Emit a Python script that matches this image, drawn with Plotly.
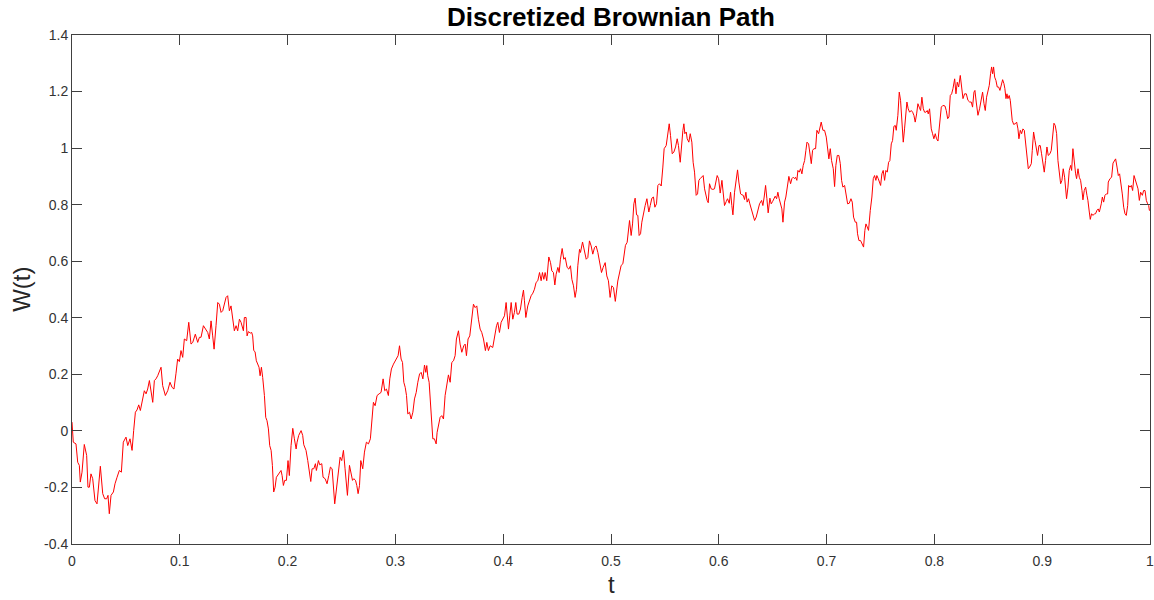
import plotly.graph_objects as go

# Brownian path W(t) sampled on [0, 1], stored piece by piece
t_seg1 = [0, 0.0012, 0.0037, 0.0053, 0.0068, 0.0077, 0.0093, 0.0114, 0.0136, 0.0148, 0.0161, 0.0176,
          0.0192, 0.0213, 0.0232, 0.0247, 0.0263, 0.0285, 0.0303, 0.0322, 0.0334, 0.0346, 0.0362, 0.0384,
          0.0399, 0.0418, 0.0439, 0.0458, 0.0476, 0.0501, 0.0517, 0.0538, 0.0557, 0.0572, 0.0588, 0.0603,
          0.0619, 0.0634, 0.0656, 0.0671, 0.0687, 0.0702, 0.0718, 0.0733, 0.0749, 0.0764, 0.0779, 0.0795,
          0.081, 0.0826, 0.0841, 0.0866, 0.0888, 0.0909, 0.0928, 0.0946, 0.0965, 0.098, 0.0996, 0.1011,
          0.1027, 0.1042, 0.1064, 0.1083, 0.1104, 0.112, 0.1144, 0.1166, 0.1182, 0.1197, 0.1219, 0.1237,
          0.1259, 0.1274, 0.129, 0.1305, 0.1318, 0.1336, 0.1352, 0.1367, 0.1383, 0.1398, 0.1414, 0.1429,
          0.1444, 0.146, 0.1475, 0.1491, 0.1506, 0.1522, 0.1537, 0.1553, 0.1568, 0.159]
w_seg1 = [0.031, -0.040, -0.046, -0.111, -0.122, -0.181, -0.146, -0.048, -0.087, -0.199, -0.199, -0.152,
          -0.169, -0.246, -0.258, -0.205, -0.125, -0.222, -0.240, -0.240, -0.228, -0.293, -0.228, -0.216,
          -0.187, -0.164, -0.140, -0.146, -0.040, -0.022, -0.052, -0.028, -0.069, 0.001, 0.066, 0.074,
          0.092, 0.072, 0.107, 0.142, 0.131, 0.148, 0.178, 0.136, 0.101, 0.178, 0.184, 0.195,
          0.213, 0.225, 0.160, 0.125, 0.142, 0.172, 0.154, 0.148, 0.204, 0.254, 0.245, 0.284,
          0.260, 0.325, 0.319, 0.384, 0.307, 0.313, 0.342, 0.313, 0.331, 0.331, 0.372, 0.360,
          0.348, 0.325, 0.389, 0.336, 0.289, 0.372, 0.454, 0.448, 0.419, 0.425, 0.448, 0.472,
          0.478, 0.425, 0.442, 0.389, 0.354, 0.372, 0.354, 0.395, 0.384, 0.354]

t_seg2 = [0.1599, 0.1615, 0.1624, 0.1636, 0.1655, 0.1667, 0.1676, 0.1686, 0.1698, 0.1710, 0.1723, 0.1735,
          0.1745, 0.1757, 0.1769, 0.1785, 0.1797, 0.1809, 0.1822, 0.1834, 0.1847, 0.1859, 0.1871, 0.1884,
          0.1896, 0.1908, 0.1924, 0.1939, 0.1949, 0.1961, 0.1973, 0.1989, 0.2004, 0.2016, 0.2032, 0.2048,
          0.2063, 0.2079, 0.2088, 0.2103, 0.2125, 0.2140, 0.2150, 0.2171, 0.2187, 0.2202, 0.2215, 0.2227,
          0.2243, 0.2258, 0.2267, 0.2286, 0.2298, 0.2317, 0.2329, 0.2348, 0.2366, 0.2382, 0.2397, 0.2413,
          0.2428, 0.2437, 0.2450, 0.2471, 0.2487, 0.2502, 0.2518, 0.2533, 0.2555, 0.2574, 0.2589, 0.2602,
          0.2614, 0.2630, 0.2642, 0.2654, 0.2667, 0.2679, 0.2697, 0.2713, 0.2731, 0.2750, 0.2768, 0.2781,
          0.2796, 0.2812, 0.2830, 0.2849, 0.2867, 0.2886, 0.2901, 0.2917, 0.2935, 0.2948, 0.2963, 0.2982,
          0.2997, 0.3013, 0.3025, 0.3038, 0.3053, 0.3066, 0.3078, 0.3091, 0.3103, 0.3115, 0.3131, 0.3146,
          0.3162, 0.3177, 0.3193, 0.3208, 0.3224, 0.3239, 0.3255, 0.3270]
w_seg2 = [0.401, 0.401, 0.336, 0.351, 0.346, 0.348, 0.336, 0.284, 0.280, 0.248, 0.236, 0.225,
          0.195, 0.225, 0.189, 0.125, 0.048, 0.036, 0.007, -0.052, -0.069, -0.122, -0.216, -0.199,
          -0.164, -0.158, -0.146, -0.140, -0.158, -0.193, -0.175, -0.175, -0.105, -0.158, -0.052, 0.009,
          -0.028, -0.064, -0.040, -0.016, 0.001, -0.016, -0.049, -0.069, -0.105, -0.140, -0.179, -0.134,
          -0.134, -0.116, -0.140, -0.105, -0.120, -0.116, -0.164, -0.169, -0.187, -0.158, -0.128, -0.134,
          -0.205, -0.258, -0.216, -0.140, -0.093, -0.105, -0.069, -0.134, -0.228, -0.122, -0.158, -0.175,
          -0.169, -0.175, -0.193, -0.222, -0.193, -0.105, -0.134, -0.075, -0.040, -0.046, -0.028, 0.042,
          0.101, 0.089, 0.125, 0.131, 0.136, 0.184, 0.142, 0.148, 0.125, 0.184, 0.219, 0.236,
          0.248, 0.260, 0.266, 0.301, 0.254, 0.242, 0.172, 0.154, 0.125, 0.060, 0.066, 0.042,
          0.066, 0.113, 0.136, 0.172, 0.201, 0.207, 0.184, 0.233]

t_seg3 = [0.3282, 0.3291, 0.3300, 0.3313, 0.3325, 0.3337, 0.3347, 0.3362, 0.3378, 0.3387, 0.3399, 0.3415,
          0.3430, 0.3446, 0.3461, 0.3477, 0.3492, 0.3508, 0.3523, 0.3539, 0.3554, 0.3566, 0.3585, 0.3600,
          0.3616, 0.3634, 0.3647, 0.3659, 0.3674, 0.3690, 0.3705, 0.3724, 0.3740, 0.3755, 0.3770, 0.3786,
          0.3801, 0.3817, 0.3835, 0.3848, 0.3863, 0.3879, 0.3903, 0.3919, 0.3938, 0.3950, 0.3965, 0.3981,
          0.3996, 0.4012, 0.4027, 0.4036, 0.4049, 0.4061, 0.4074, 0.4089, 0.4104, 0.4117, 0.4129, 0.4145,
          0.4160, 0.4176, 0.4188, 0.4197, 0.4210, 0.4228, 0.4247, 0.4259, 0.4275, 0.4290, 0.4305, 0.4321,
          0.4337, 0.4352, 0.4364, 0.4377, 0.4389, 0.4404, 0.4423, 0.4439, 0.4451, 0.4466, 0.4479, 0.4491,
          0.4507, 0.4519, 0.4531, 0.4547, 0.4562, 0.4575, 0.4593, 0.4609, 0.4624, 0.4637, 0.4652, 0.4667,
          0.4680, 0.4692, 0.4708, 0.4717, 0.4736, 0.4754, 0.4770, 0.4785, 0.4800, 0.4816, 0.4831, 0.4847,
          0.4862, 0.4878, 0.4896, 0.4912, 0.4927, 0.4946, 0.4961, 0.4976, 0.4992, 0.5007, 0.5023, 0.5040]
w_seg3 = [0.207, 0.231, 0.195, 0.172, 0.113, 0.054, -0.028, -0.028, -0.046, -0.005, 0.019, 0.048,
          0.054, 0.042, 0.125, 0.160, 0.198, 0.172, 0.242, 0.248, 0.266, 0.325, 0.354, 0.307,
          0.278, 0.301, 0.307, 0.266, 0.325, 0.336, 0.395, 0.448, 0.436, 0.442, 0.395, 0.360,
          0.348, 0.325, 0.284, 0.313, 0.284, 0.301, 0.295, 0.336, 0.372, 0.384, 0.348, 0.384,
          0.395, 0.407, 0.454, 0.413, 0.360, 0.407, 0.454, 0.395, 0.419, 0.454, 0.413, 0.413,
          0.431, 0.472, 0.498, 0.460, 0.401, 0.442, 0.466, 0.478, 0.487, 0.501, 0.525, 0.531,
          0.560, 0.531, 0.560, 0.536, 0.560, 0.531, 0.615, 0.595, 0.566, 0.560, 0.516, 0.554,
          0.578, 0.560, 0.607, 0.645, 0.607, 0.613, 0.578, 0.572, 0.584, 0.536, 0.513, 0.472,
          0.501, 0.584, 0.642, 0.631, 0.668, 0.631, 0.607, 0.613, 0.672, 0.654, 0.625, 0.648,
          0.654, 0.631, 0.595, 0.560, 0.578, 0.595, 0.548, 0.531, 0.472, 0.513, 0.507, 0.458]

t_seg4 = [0.5063, 0.5094, 0.5110, 0.5125, 0.5134, 0.5150, 0.5162, 0.5172, 0.5187, 0.5200, 0.5212, 0.5224,
          0.5237, 0.5249, 0.5261, 0.5274, 0.5286, 0.5302, 0.5317, 0.5333, 0.5351, 0.5364, 0.5379, 0.5394,
          0.5407, 0.5422, 0.5435, 0.5450, 0.5466, 0.5481, 0.5493, 0.5512, 0.5527, 0.5540, 0.5552, 0.5568,
          0.5583, 0.5599, 0.5614, 0.5626, 0.5642, 0.5657, 0.5667, 0.5676, 0.5685, 0.5698, 0.5707, 0.5722,
          0.5735, 0.5750, 0.5762, 0.5775, 0.5790, 0.5803, 0.5815, 0.5827, 0.5843, 0.5855, 0.5868, 0.5880,
          0.5892, 0.5902, 0.5914, 0.5929, 0.5945, 0.5960, 0.5973, 0.5985, 0.5998, 0.6013, 0.6029, 0.6044,
          0.6053, 0.6069, 0.6081, 0.6097, 0.6109, 0.6121, 0.6131, 0.6146, 0.6162, 0.6174, 0.6186, 0.6202,
          0.6214, 0.6227, 0.6239, 0.6251, 0.6263, 0.6276, 0.6288, 0.6301, 0.6316, 0.6332, 0.6347, 0.6363,
          0.6378, 0.6397, 0.6409, 0.6421, 0.6434, 0.6446, 0.6458, 0.6474, 0.6486, 0.6499, 0.6511, 0.6523,
          0.6536, 0.6548, 0.6560, 0.6573, 0.6585, 0.6595, 0.6610, 0.6622, 0.6635, 0.6650, 0.6666, 0.6678,
          0.6690]
w_seg4 = [0.530, 0.585, 0.591, 0.632, 0.656, 0.667, 0.703, 0.744, 0.691, 0.732, 0.803, 0.823,
          0.764, 0.762, 0.691, 0.697, 0.738, 0.774, 0.797, 0.821, 0.774, 0.797, 0.823, 0.827,
          0.791, 0.803, 0.868, 0.874, 0.866, 0.933, 0.998, 1.009, 1.051, 1.086, 1.045, 0.980,
          0.986, 1.004, 1.033, 1.009, 0.950, 1.033, 1.063, 1.086, 1.051, 1.057, 1.033, 1.021,
          1.051, 1.021, 0.950, 0.915, 0.833, 0.838, 0.886, 0.892, 0.897, 0.903, 0.856, 0.830,
          0.815, 0.807, 0.874, 0.856, 0.854, 0.856, 0.886, 0.903, 0.892, 0.841, 0.886, 0.821,
          0.797, 0.811, 0.821, 0.805, 0.844, 0.797, 0.764, 0.844, 0.903, 0.923, 0.880, 0.838,
          0.835, 0.833, 0.818, 0.844, 0.809, 0.821, 0.803, 0.785, 0.762, 0.744, 0.756, 0.785,
          0.803, 0.815, 0.797, 0.827, 0.868, 0.821, 0.771, 0.823, 0.803, 0.811, 0.821, 0.830,
          0.821, 0.844, 0.821, 0.803, 0.785, 0.738, 0.809, 0.827, 0.862, 0.900, 0.874, 0.892,
          0.897]

t_seg5 = [0.6703, 0.6712, 0.6724, 0.6734, 0.6746, 0.6758, 0.6771, 0.6783, 0.6796, 0.6808, 0.6818, 0.6833,
          0.6845, 0.6858, 0.6870, 0.6882, 0.6898, 0.6910, 0.6926, 0.6938, 0.6950, 0.6966, 0.6981, 0.6997,
          0.7009, 0.7021, 0.7034, 0.7046, 0.7062, 0.7074, 0.7086, 0.7099, 0.7114, 0.7127, 0.7139, 0.7151,
          0.7167, 0.7182, 0.7195, 0.7210, 0.7226, 0.7238, 0.7250, 0.7266, 0.7278, 0.7287, 0.7300, 0.7315,
          0.7328, 0.7343, 0.7355, 0.7365, 0.7377, 0.7389, 0.7405, 0.7420, 0.7433, 0.7445, 0.7457, 0.7466,
          0.7479, 0.7491, 0.7501, 0.7513, 0.7525, 0.7538, 0.7550, 0.7563, 0.7575, 0.7587, 0.7600, 0.7612,
          0.7624, 0.7637, 0.7646, 0.7661, 0.7674, 0.7686, 0.7699, 0.7711, 0.7723, 0.7736, 0.7745, 0.7757,
          0.7770, 0.7785, 0.7798, 0.7810, 0.7822, 0.7835, 0.7847, 0.7859, 0.7872, 0.7884, 0.7897, 0.7909,
          0.7921, 0.7934, 0.7943, 0.7955, 0.7971, 0.7983, 0.7995, 0.8008, 0.8020, 0.8033, 0.8048, 0.8064,
          0.8079, 0.8098, 0.8110, 0.8123, 0.8135, 0.8147, 0.8160, 0.8172, 0.8188, 0.8200, 0.8212, 0.8225,
          0.8240, 0.8253, 0.8265, 0.8280, 0.8296, 0.8311, 0.8327, 0.8342, 0.8354, 0.8367]
w_seg5 = [0.892, 0.897, 0.886, 0.921, 0.915, 0.927, 0.909, 0.939, 0.956, 0.992, 1.021, 1.015,
          0.980, 0.945, 0.992, 0.998, 0.998, 1.063, 1.051, 1.068, 1.092, 1.063, 1.063, 1.039,
          1.009, 0.962, 0.998, 0.956, 0.927, 0.864, 0.939, 0.974, 0.974, 0.945, 0.886, 0.862,
          0.868, 0.838, 0.803, 0.805, 0.821, 0.809, 0.756, 0.738, 0.738, 0.697, 0.673, 0.673,
          0.662, 0.650, 0.709, 0.732, 0.721, 0.709, 0.779, 0.827, 0.892, 0.903, 0.886, 0.903,
          0.892, 0.874, 0.868, 0.909, 0.921, 0.886, 0.921, 0.915, 0.950, 0.956, 1.015, 1.027,
          1.077, 1.080, 1.063, 1.116, 1.198, 1.169, 1.074, 1.021, 1.068, 1.127, 1.163, 1.139,
          1.127, 1.133, 1.127, 1.116, 1.092, 1.121, 1.157, 1.145, 1.133, 1.180, 1.139, 1.127,
          1.127, 1.133, 1.121, 1.139, 1.068, 1.051, 1.033, 1.051, 1.033, 1.025, 1.080, 1.145,
          1.151, 1.149, 1.133, 1.104, 1.110, 1.186, 1.192, 1.210, 1.245, 1.192, 1.233, 1.216,
          1.257, 1.204, 1.175, 1.192, 1.192, 1.169, 1.163, 1.163, 1.145, 1.198]

t_seg6 = [0.8376, 0.8388, 0.8404, 0.8419, 0.8435, 0.8447, 0.8460, 0.8472, 0.8484, 0.8497, 0.8509, 0.8521,
          0.8531, 0.8540, 0.8549, 0.8559, 0.8571, 0.8583, 0.8596, 0.8608, 0.8620, 0.8633, 0.8645, 0.8654,
          0.8664, 0.8673, 0.8682, 0.8694, 0.8704, 0.8713, 0.8722, 0.8735, 0.8750, 0.8763, 0.8775, 0.8784,
          0.8797, 0.8809, 0.8821, 0.8834, 0.8846, 0.8858, 0.8871, 0.8883, 0.8899, 0.8908, 0.8920, 0.8933,
          0.8945, 0.8957, 0.8970, 0.8982, 0.8994, 0.9007, 0.9019, 0.9031, 0.9044, 0.9056, 0.9072, 0.9084,
          0.9096, 0.9109, 0.9121, 0.9134, 0.9146, 0.9158, 0.9171, 0.9183, 0.9195, 0.9208, 0.9217, 0.9226,
          0.9239, 0.9251, 0.9264, 0.9273, 0.9285, 0.9297, 0.9310, 0.9319, 0.9332, 0.9344, 0.9356, 0.9369,
          0.9378, 0.9390, 0.9403, 0.9415, 0.9424, 0.9437, 0.9446, 0.9458, 0.9471, 0.9486, 0.9495, 0.9508,
          0.9520, 0.9530, 0.9539, 0.9548, 0.9558, 0.9570, 0.9582, 0.9595, 0.9607, 0.9613, 0.9629, 0.9644,
          0.9657, 0.9669, 0.9681, 0.9694, 0.9706, 0.9718, 0.9731, 0.9743, 0.9756, 0.9768, 0.9780, 0.9793,
          0.9802, 0.9814, 0.9827, 0.9839, 0.9852, 0.9864, 0.9876, 0.9889, 0.9901, 0.9913, 0.9929, 0.9941,
          0.9954, 0.9966, 0.9978, 0.9988, 0.9994, 1.0]
w_seg6 = [1.204, 1.163, 1.116, 1.139, 1.175, 1.198, 1.157, 1.133, 1.180, 1.198, 1.222, 1.263,
          1.287, 1.263, 1.287, 1.251, 1.239, 1.216, 1.216, 1.204, 1.222, 1.242, 1.228, 1.210,
          1.175, 1.192, 1.175, 1.186, 1.169, 1.121, 1.098, 1.084, 1.086, 1.092, 1.068, 1.033,
          1.063, 1.051, 1.068, 1.063, 1.015, 0.980, 0.927, 0.933, 0.945, 0.992, 1.057, 1.027,
          1.004, 0.974, 1.009, 1.009, 0.980, 0.945, 0.915, 0.956, 1.004, 0.974, 0.980, 0.992,
          1.039, 1.088, 1.080, 1.051, 0.956, 0.903, 0.874, 0.886, 0.927, 0.897, 0.862, 0.821,
          0.862, 0.921, 0.939, 0.921, 0.998, 0.950, 0.909, 0.892, 0.927, 0.897, 0.886, 0.850,
          0.817, 0.850, 0.862, 0.833, 0.815, 0.774, 0.748, 0.768, 0.762, 0.768, 0.768, 0.780,
          0.785, 0.774, 0.797, 0.803, 0.827, 0.809, 0.833, 0.838, 0.838, 0.880, 0.892, 0.897,
          0.947, 0.956, 0.962, 0.933, 0.903, 0.909, 0.880, 0.838, 0.791, 0.768, 0.762, 0.797,
          0.868, 0.862, 0.868, 0.850, 0.903, 0.886, 0.868, 0.856, 0.815, 0.844, 0.833, 0.850,
          0.850, 0.815, 0.803, 0.797, 0.780, 0.780]

x_tickvals = [0, 0.1, 0.2, 0.3, 0.4, 0.5, 0.6, 0.7, 0.8, 0.9, 1]
x_ticktext = ["0", "0.1", "0.2", "0.3", "0.4", "0.5", "0.6", "0.7", "0.8", "0.9", "1"]
y_tickvals = [-0.4, -0.2, 0, 0.2, 0.4, 0.6, 0.8, 1, 1.2, 1.4]
y_ticktext = ["-0.4", "-0.2", "0", "0.2", "0.4", "0.6", "0.8", "1", "1.2", "1.4"]

t_all = t_seg1 + t_seg2 + t_seg3 + t_seg4 + t_seg5 + t_seg6
w_all = w_seg1 + w_seg2 + w_seg3 + w_seg4 + w_seg5 + w_seg6

AXIS_COLOR = "#404040"
FONT = "Liberation Sans, Arial, sans-serif"

fig = go.Figure(
    go.Scatter(x=t_all, y=w_all, mode="lines",
               line=dict(color="#ff0000", width=1), hoverinfo="skip", cliponaxis=True)
)

axis_common = dict(
    showline=True, linecolor=AXIS_COLOR, linewidth=1, mirror="ticks",
    ticks="inside", ticklen=10, tickwidth=1, tickcolor=AXIS_COLOR,
    showgrid=False, zeroline=False, ticklabeloverflow="allow", automargin=False,
    tickfont=dict(family=FONT, size=14, color="#333333"),
)

# a hair of padding keeps the end ticks (0 and 1, -0.4 and 1.4) from being dropped
fig.update_xaxes(range=[-1e-6, 1 + 1e-6], tickvals=x_tickvals, ticktext=x_ticktext,
                 ticklabelstandoff=4, **axis_common)
fig.update_yaxes(range=[-0.4 - 1e-6, 1.4 + 1e-6], tickvals=y_tickvals, ticktext=y_ticktext,
                 **axis_common)

fig.update_layout(
    width=1154, height=600,
    margin=dict(l=72, r=4, t=35, b=56, autoexpand=False),
    paper_bgcolor="white", plot_bgcolor="white",
    showlegend=False,
    title=dict(text="<b>Discretized Brownian Path</b>",
               font=dict(family=FONT, size=26, color="#000000"),
               x=611 / 1154, xanchor="center", xref="container",
               y=1 - 17 / 600, yanchor="middle", yref="container"),
    annotations=[
        dict(text="W(t)", textangle=-90, xref="paper", yref="paper",
             x=-0.047, y=0.5, xanchor="center", yanchor="middle", showarrow=False,
             font=dict(family=FONT, size=24, color="#262626")),
        dict(text="t", xref="paper", yref="paper",
             x=0.5, y=-0.110, xanchor="center", yanchor="bottom", showarrow=False,
             font=dict(family=FONT, size=24, color="#262626")),
    ],
)

fig.write_html("out.html")
